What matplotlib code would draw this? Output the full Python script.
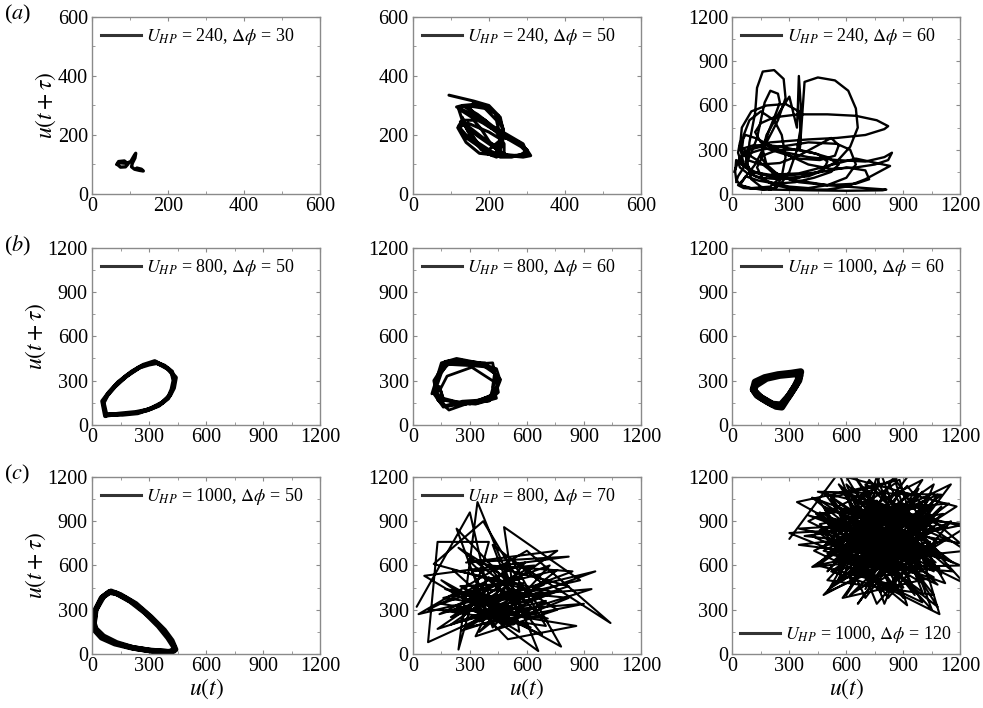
import matplotlib
matplotlib.use("Agg")
import matplotlib.pyplot as plt
from matplotlib.ticker import MultipleLocator

plt.rcParams['font.family'] = ['Liberation Serif', 'DejaVu Serif']
plt.rcParams['mathtext.fontset'] = 'stix'

# ---------------- data ----------------
a1_x = [65, 70, 85, 95, 88, 75, 67, 72, 90, 102, 110, 115, 113, 106, 104, 112, 125, 135, 130, 118]
a1_y = [100, 110, 112, 102, 92, 91, 100, 106, 104, 110, 128, 138, 122, 104, 92, 84, 80, 78, 84, 88]

a2_x = [95, 160, 200, 230, 240, 230, 210, 180, 150, 130, 120, 140, 190, 220, 230, 270, 300, 310, 290,
        250, 220, 200, 180, 160, 130, 120, 140, 180, 230, 260, 300, 290, 250, 210, 170, 130, 115, 140,
        190, 220, 240, 240, 220, 190, 160, 135, 125, 150, 200, 240, 280, 305, 285, 245, 215, 185, 155,
        125, 130, 170, 215, 235, 235, 215, 175, 140, 118, 145, 200, 232, 225, 200, 165, 135, 122, 135,
        175, 215, 250, 285, 300, 280, 240, 205, 175, 150, 160, 195, 225, 238, 228, 200, 170, 145, 130]
a2_y = [335, 315, 300, 260, 200, 150, 130, 150, 200, 250, 290, 300, 290, 250, 195, 180, 150, 130, 125,
        130, 150, 180, 220, 250, 250, 230, 200, 160, 125, 125, 140, 170, 200, 230, 270, 300, 295, 280,
        250, 210, 170, 140, 125, 140, 190, 235, 245, 215, 170, 135, 128, 135, 160, 190, 215, 240, 260,
        285, 300, 305, 275, 225, 165, 132, 138, 175, 225, 240, 210, 185, 160, 175, 210, 240, 225, 195,
        160, 140, 130, 132, 150, 175, 200, 225, 255, 290, 310, 295, 265, 220, 180, 150, 175, 215, 260]

a3_x = [10, 40, 100, 150, 250, 400, 550, 620, 650, 600, 500, 400, 300, 200, 120, 60, 40, 50, 100, 180,
        280, 350, 360, 340, 300, 250, 200, 150, 100, 80, 90, 120, 130, 160, 220, 270, 280, 240, 180, 120,
        60, 30, 60, 200, 400, 600, 790, 810, 700, 500, 300, 200, 150, 180, 250, 300, 340, 345, 350, 360,
        355, 380, 450, 540, 610, 650, 660, 620, 550, 450, 350, 250, 150, 80, 40, 30, 80, 200, 400, 550,
        700, 800, 820, 760, 650, 500, 350, 220, 150, 120, 150, 250, 400, 550, 700, 800, 840, 820, 750,
        650, 520, 400, 300, 200, 120, 70, 40, 30, 50, 100, 200, 350, 500, 650, 830, 700, 600, 500, 400,
        300, 220, 160, 130, 160, 240, 350, 450, 500, 480, 400, 300, 200, 120, 60, 20, 15, 20, 40, 90,
        160, 230, 250, 200, 130, 80, 60, 110, 190, 260, 330, 420, 500, 560, 520, 430, 330, 230, 140, 70,
        40, 100, 200, 260, 280, 260, 220, 150, 90, 60, 50, 80, 150, 250, 350, 450, 520, 560, 540, 460,
        350, 250, 150, 90, 70, 100, 200, 330, 470, 600, 700, 720, 650, 500, 350, 250, 180, 160, 190, 230,
        250, 240, 200, 170, 150, 130, 100, 60, 30, 20]
a3_y = [150, 250, 280, 300, 320, 350, 340, 300, 200, 110, 60, 40, 50, 80, 120, 200, 320, 450, 560, 600,
        610, 560, 450, 300, 150, 60, 30, 50, 100, 200, 350, 550, 720, 830, 840, 780, 650, 500, 350, 200,
        100, 60, 40, 30, 25, 22, 25, 30, 40, 60, 100, 160, 250, 400, 560, 660, 450, 600, 800, 600,
        300, 760, 790, 770, 700, 580, 450, 320, 220, 150, 110, 100, 110, 140, 180, 220, 300, 350, 370, 380,
        400, 440, 460, 500, 530, 540, 540, 520, 480, 420, 350, 290, 250, 230, 220, 250, 280, 230, 200,
        180, 170, 200, 260, 330, 380, 400, 350, 280, 200, 150, 130, 140, 190, 240, 190, 100, 50, 30, 30,
        40, 60, 100, 180, 260, 300, 300, 270, 220, 160, 120, 110, 120, 150, 190, 230, 150, 100, 60, 40,
        30, 40, 90, 160, 230, 270, 310, 330, 330, 320, 300, 280, 250, 200, 150, 110, 80, 70, 90, 120,
        60, 40, 50, 120, 250, 400, 500, 560, 500, 400, 300, 230, 200, 210, 260, 330, 380, 330, 260, 230,
        240, 280, 320, 300, 220, 150, 120, 130, 150, 180, 160, 100, 70, 60, 80, 120, 200, 300, 420, 550,
        620, 680, 700, 620, 500, 380, 280, 180, 120, 80]

b1_x = [75, 60, 80, 120, 180, 250, 300, 340, 380, 420, 430, 420, 400, 350, 290, 230, 150, 80,
        70, 55, 90, 140, 210, 270, 330, 400, 440, 430, 410, 370, 310, 240, 160, 70]
b1_y = [65, 150, 200, 260, 330, 390, 410, 420, 400, 360, 300, 240, 180, 130, 100, 85, 75, 65,
        60, 160, 220, 290, 360, 405, 430, 380, 320, 250, 200, 150, 110, 80, 70, 70]

b2_x = [100, 150, 230, 350, 440, 460, 430, 350, 250, 160, 110, 130, 200, 300, 420, 440, 450, 400, 300,
        190, 130, 110, 160, 270, 380, 430, 420, 440, 330, 230, 150, 120, 150, 180, 320, 400, 460, 420,
        350, 280, 160, 140, 160, 300, 410, 430, 310, 180, 140, 120, 170, 250, 360, 450, 440, 380, 260,
        170, 130]
b2_y = [210, 420, 450, 420, 380, 300, 200, 150, 140, 120, 210, 330, 430, 410, 420, 290, 220, 160, 150,
        100, 170, 300, 400, 430, 420, 350, 260, 180, 140, 150, 170, 240, 350, 410, 400, 390, 310, 200,
        170, 140, 180, 260, 170, 140, 200, 290, 390, 330, 230, 280, 430, 440, 410, 330, 230, 170, 160,
        130, 200]

b3_x = [110, 120, 170, 240, 310, 360, 350, 320, 290, 260, 230, 180, 130, 110, 125, 180, 250, 330, 355,
        330, 300, 255, 210, 150, 115]
b3_y = [240, 290, 320, 340, 350, 360, 300, 240, 180, 120, 125, 160, 200, 240, 270, 315, 335, 345, 330,
        260, 200, 135, 140, 185, 230]

c1_x = [10, 15, 50, 90, 130, 200, 280, 350, 400, 430, 430, 400, 300, 200, 120, 50, 15, 10,
        20, 60, 100, 150, 230, 310, 380, 420, 440, 410, 320, 220, 130, 60, 20, 10]
c1_y = [200, 290, 380, 420, 410, 360, 280, 190, 110, 50, 20, 15, 25, 45, 70, 110, 160, 200,
        300, 390, 425, 400, 340, 250, 160, 90, 30, 15, 20, 40, 75, 120, 170, 210]

c2_x = [20, 300, 420, 80, 130, 400, 240, 340, 660, 150, 780, 520, 1040, 600, 30, 960, 200, 760, 280, 820,
        60, 560, 480, 880, 180, 700, 370, 110, 620, 260, 940, 300, 500, 860, 150, 720, 420, 230, 650, 80,
        590, 350, 770, 130, 540, 260, 680, 400, 840, 200, 460, 330, 760, 240, 600, 170, 710, 380, 900, 280,
        520, 140, 640, 310, 470, 820, 360, 230, 560, 420, 690, 290, 500, 160, 760, 350, 580, 250, 450, 620,
        300, 530, 210, 740, 390, 270, 480, 600, 330, 440, 700, 250, 400, 560, 290, 820, 360]
c2_y = [320, 960, 280, 80, 760, 760, 30, 1030, 20, 500, 50, 640, 210, 700, 270, 560, 200, 700, 620, 660,
        530, 150, 860, 500, 290, 190, 900, 610, 430, 160, 440, 370, 100, 190, 340, 600, 180, 850, 280, 300,
        620, 220, 430, 170, 530, 380, 130, 600, 560, 250, 460, 120, 300, 720, 350, 440, 240, 290, 340, 180,
        420, 270, 600, 560, 200, 380, 440, 310, 260, 740, 470, 240, 320, 380, 570, 150, 480, 460, 280, 180,
        300, 200, 570, 420, 350, 270, 560, 240, 420, 170, 360, 220, 520, 300, 640, 460, 260]

c3_x = [300, 560, 760, 480, 1000, 640, 1090, 880, 340, 1060, 580, 960, 420, 1230, 700, 920, 460, 1110,
        620, 780, 1050, 520, 880, 300, 980, 560, 1160, 740, 470, 1080, 660, 900, 400, 1070, 600, 840, 520,
        1000, 720, 350, 1130, 580, 960, 680, 440, 1040, 760, 560, 1230, 640, 920, 500, 1060, 760, 420, 880,
        1100, 620, 980, 540, 860, 1000, 700, 460, 1220, 800, 600, 940, 380, 1080, 720, 560, 1020, 840, 480,
        1090, 660, 900, 620, 1040, 760, 500, 980, 700, 880, 540, 1120, 800, 600, 960, 680, 1060, 740, 460,
        920, 820, 560, 1000, 720, 880, 640, 1080, 780, 520, 940, 700, 1020, 600, 860, 760, 980, 660, 900,
        580, 1050, 800, 700, 960, 640, 840, 1000, 740, 900, 680, 820, 1040, 760, 600, 880, 720, 980, 660,
        820, 940, 700, 860, 1230,
        450, 1100, 520, 1180, 600, 1000, 430, 1150, 700, 480, 1200, 560, 950, 400, 1080, 650, 900, 450,
        1060, 800, 600, 1120, 500, 850, 1000, 350, 1100, 750, 550, 1150, 820, 450, 980, 620, 1080, 700,
        520, 1200, 880, 600, 1000, 420, 940, 760, 1100, 560, 860, 480, 1040, 720, 640, 1160, 800, 500,
        920, 1080, 580, 760, 1000, 440, 1140, 660, 900, 540, 1060, 780, 460, 1000, 700, 880, 600, 1120,
        820, 520, 960, 700, 1060, 580, 900, 760]
c3_y = [780, 1230, 590, 400, 1100, 560, 270, 1180, 1030, 520, 380, 1060, 590, 700, 1150, 330, 820, 950,
        500, 1230, 300, 1050, 520, 820, 870, 620, 560, 1010, 720, 1080, 340, 760, 940, 620, 1150, 420, 560,
        980, 680, 740, 860, 1100, 400, 860, 600, 760, 340, 960, 880, 720, 1080, 500, 400, 900, 1060, 600,
        1000, 400, 700, 880, 1160, 560, 520, 960, 480, 1080, 640, 900, 800, 700, 1180, 720, 1040, 480, 1100,
        580, 960, 380, 820, 900, 600, 680, 1120, 440, 840, 1000, 650, 760, 540, 620, 1080, 860, 500, 880,
        1000, 640, 820, 480, 960, 700, 1040, 760, 420, 760, 560, 800, 660, 920, 1000, 720, 820, 620, 920,
        700, 1000, 560, 900, 760, 860, 800, 700, 840, 640, 760, 920, 820, 660, 780, 880, 600, 940, 700,
        720, 820, 940, 560, 860,
        1100, 1080, 450, 1000, 1200, 350, 700, 1150, 380, 1000, 600, 580, 1250, 900, 470, 1000, 450, 600,
        1150, 340, 1080, 780, 420, 1200, 900, 850, 650, 1100, 480, 900, 380, 1050, 600, 1250, 320, 700,
        920, 750, 1100, 400, 1180, 800, 480, 1040, 540, 1150, 560, 700, 1060, 460, 900, 620, 980, 560,
        1140, 880, 500, 1200, 420, 950, 1020, 560, 1020, 640, 740, 500, 840, 1000, 620, 940, 720, 480,
        1160, 1060, 660, 1080, 560, 860, 760, 940]

panels = [
    # x, y, limit, major tick step, legend label, line width, legend loc
    (a1_x, a1_y, 600, 200, r'$U_{HP}$ = 240, $\Delta\phi$ = 30', 2.4, 'upper left'),
    (a2_x, a2_y, 600, 200, r'$U_{HP}$ = 240, $\Delta\phi$ = 50', 2.2, 'upper left'),
    (a3_x, a3_y, 1200, 300, r'$U_{HP}$ = 240, $\Delta\phi$ = 60', 1.7, 'upper left'),
    (b1_x, b1_y, 1200, 300, r'$U_{HP}$ = 800, $\Delta\phi$ = 50', 3.2, 'upper left'),
    (b2_x, b2_y, 1200, 300, r'$U_{HP}$ = 800, $\Delta\phi$ = 60', 2.0, 'upper left'),
    (b3_x, b3_y, 1200, 300, r'$U_{HP}$ = 1000, $\Delta\phi$ = 60', 5.0, 'upper left'),
    (c1_x, c1_y, 1200, 300, r'$U_{HP}$ = 1000, $\Delta\phi$ = 50', 4.0, 'upper left'),
    (c2_x, c2_y, 1200, 300, r'$U_{HP}$ = 800, $\Delta\phi$ = 70', 1.5, 'upper left'),
    (c3_x, c3_y, 1200, 300, r'$U_{HP}$ = 1000, $\Delta\phi$ = 120', 1.5, 'lower right'),
]

fig = plt.figure(figsize=(9.83, 7.08), dpi=100)
lefts = [0.0936, 0.420, 0.745]
bottoms = [0.726, 0.400, 0.0763]
W, H = 0.232, 0.25
gray = '#8a8a8a'

for i, (xs, ys, lim, major, lab, lw, loc) in enumerate(panels):
    r, c = divmod(i, 3)
    ax = fig.add_axes([lefts[c], bottoms[r], W, H])
    ax.plot(xs, ys, color='black', lw=lw, solid_joinstyle='round', solid_capstyle='round')
    ax.plot([], [], color='#333333', lw=2.2, label=lab)
    ax.set_xlim(0, lim)
    ax.set_ylim(0, lim)
    ax.xaxis.set_major_locator(MultipleLocator(major))
    ax.yaxis.set_major_locator(MultipleLocator(major))
    ax.xaxis.set_minor_locator(MultipleLocator(major / 2))
    ax.yaxis.set_minor_locator(MultipleLocator(major / 2))
    for s in ax.spines.values():
        s.set_color(gray)
        s.set_linewidth(1.0)
    ax.tick_params(which='both', direction='in', top=True, right=True, color=gray,
                   labelsize=14.5)
    ax.tick_params(axis='x', pad=2.5)
    ax.tick_params(axis='y', pad=3)
    ax.tick_params(which='major', length=3)
    ax.tick_params(which='minor', length=2)
    h, l = ax.get_legend_handles_labels()
    ax.legend([h[-1]], [l[-1]], loc=loc, frameon=False, fontsize=13, handlelength=2.2,
              handletextpad=0.3, borderaxespad=0.2, borderpad=0.3)
    if c == 0:
        ax.set_ylabel(r'$u(t+\tau)$', fontsize=17, labelpad=0)
        fig.text(0.004, bottoms[r] + H + 0.003, '($' + 'abc'[r] + '$)', fontsize=16,
                 va='center', ha='left')
    if r == 2:
        ax.set_xlabel(r'$u(t)$', fontsize=17, labelpad=0)

fig.savefig('out.png', dpi=100)
